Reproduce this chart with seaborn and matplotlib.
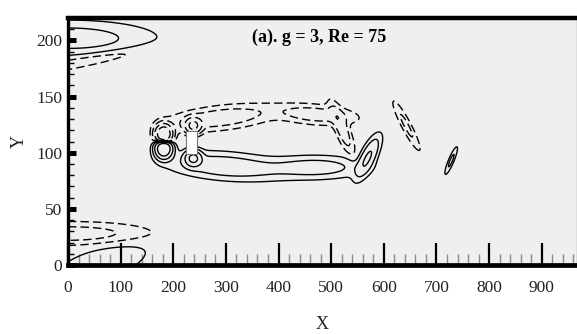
import numpy as np
import matplotlib
matplotlib.use("Agg")
import matplotlib.pyplot as plt
from matplotlib.patches import Rectangle
from matplotlib.ticker import MultipleLocator
import seaborn as sns

# ---- data -----------------------------------------------------------------
title = "(a). g = 3, Re = 75"
x_ticks = [0, 100, 200, 300, 400, 500, 600, 700, 800, 900]
y_ticks = [0, 50, 100, 150, 200]
x_max, y_max = 967, 220

# vortex patches (centre, strength, extent along / across, tilt in degrees)
vort_x   = [0,   15,    0,    60,  182,  182,  238,  238,  300,  470,  570,  290,  470,  520,  643,  728]
vort_y   = [202, 180,   28,   0,   104,  116,  95,   124,  88,   87,   96,   131,  134,  122,  124,  93]
vort_amp = [0.5, -0.25, -0.5, 0.3, 5.0,  -5.0, 2.5,  -2.5, 0.6,  0.5,  0.9,  -0.6, -0.55, -0.6, -0.4, 0.4]
vort_sa  = [95,  110,   95,   60,  9,    9,    9,    9,    65,   55,   16,   60,   45,   18,   20,   10]
vort_sb  = [9,   3.5,   6,    10,  5,    5,    4,    4,    7,    6,    6,    6,    5,    6,    4,    2.5]
vort_ang = [0,   5,     0,    8,   0,    0,    0,    0,    -2,   0,    37,   3,    -2,   -45,  -40,  46]

levels = [-5, -2, -0.8, -0.3, -0.1, 0.1, 0.3, 0.8, 2, 5]

# square cylinder
cyl_x, cyl_y, cyl_size = 225, 99, 20

# ---- build field -----------------------------------------------------------
gx = np.linspace(0, x_max, 700)
gy = np.linspace(0, y_max, 400)
X, Y = np.meshgrid(gx, gy)
W = np.zeros_like(X)
for x0, y0, a, sa, sb, ang in zip(vort_x, vort_y, vort_amp, vort_sa, vort_sb, vort_ang):
    t = np.deg2rad(ang)
    u = (X - x0) * np.cos(t) + (Y - y0) * np.sin(t)
    v = -(X - x0) * np.sin(t) + (Y - y0) * np.cos(t)
    W += a * np.exp(-0.5 * (u / sa) ** 2 - 0.5 * (v / sb) ** 2)

# ---- plot ------------------------------------------------------------------
sns.set_theme(style="white")
plt.rcParams["font.family"] = ["Liberation Serif", "DejaVu Serif"]

fig = plt.figure(figsize=(5.77, 3.34), dpi=100)
ax = fig.add_axes([68 / 577, (334 - 265) / 334, (577 - 68) / 577, (265 - 18) / 334])
ax.set_facecolor("#efefef")

ax.contour(X, Y, W, levels=levels, colors="black", linewidths=1.0,
           negative_linestyles=(0, (6, 3)))
ax.add_patch(Rectangle((cyl_x, cyl_y), cyl_size, cyl_size, facecolor="white",
                       edgecolor="#777777", linewidth=0.8, zorder=5))

ax.set_xlim(0, x_max)
ax.set_ylim(0, y_max)
ax.set_xticks(x_ticks)
ax.set_yticks(y_ticks)
ax.xaxis.set_minor_locator(MultipleLocator(20))
ax.yaxis.set_minor_locator(MultipleLocator(10))

ax.tick_params(axis="x", which="major", direction="in", length=16, width=1.6,
               color="black", labelsize=12.5, labelcolor="#222222", pad=11)
ax.tick_params(axis="x", which="minor", direction="in", length=8, width=1.0,
               color="#8a8a8a")
ax.tick_params(axis="y", which="major", direction="in", length=6, width=3.6,
               color="black", labelsize=12.5, labelcolor="#222222", pad=4)
ax.tick_params(axis="y", which="minor", direction="in", length=4, width=1.0,
               color="black")
ax.tick_params(bottom=True, left=True, top=False, right=False, which="both")

for side, lw in (("top", 3.2), ("bottom", 3.4), ("left", 2.4)):
    ax.spines[side].set_linewidth(lw)
    ax.spines[side].set_color("black")
ax.spines["right"].set_linewidth(1.0)
ax.spines["right"].set_color("#999999")

ax.set_xlabel("X", fontsize=13, color="#222222", labelpad=14)
ax.set_ylabel("Y", fontsize=13, color="#222222", labelpad=6)

ax.text(478, 203, title, fontsize=13, fontweight="bold", ha="center",
        va="center", color="black")

fig.savefig("out.png", dpi=100)
